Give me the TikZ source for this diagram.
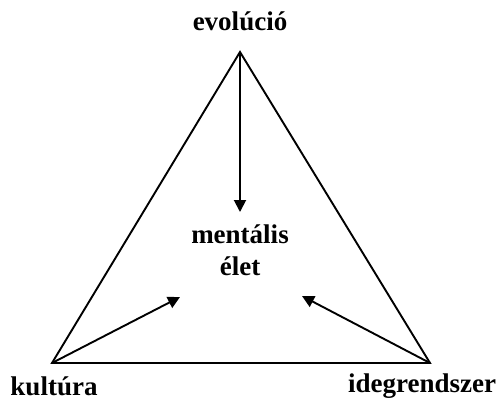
\documentclass[tikz,border=0pt]{standalone}
\usepackage{fontspec}
\setmainfont{Liberation Serif}
\usetikzlibrary{arrows.meta}
\begin{document}
\begin{tikzpicture}[x=1pt,y=-1pt,
  lbl/.style={font=\fontsize{27}{32}\selectfont\bfseries, inner sep=0pt, align=center},
  edge/.style={line width=1.9pt, line join=miter},
  arr/.style={line width=1.9pt, -{Triangle[length=12pt,width=12pt]}}]
\useasboundingbox (0,0) rectangle (503,400);
\coordinate (top) at (240,52);
\coordinate (bl) at (52,363);
\coordinate (br) at (430,363);
\draw[edge] (top) -- (bl) -- (br) -- cycle;
\node[lbl] (evo) at (240,21) {evolúció};
\node[lbl] (kul) at (54,386) {kultúra};
\node[lbl] (ideg) at (422,386) {idegrendszer};
\node[lbl] (ment) at (240,250) {mentális\\élet};
\coordinate (t1) at (240,212);
\coordinate (t2) at (180,297);
\coordinate (t3) at (302,296);
\draw[arr] (top) -- (t1);
\draw[arr] (bl) -- (t2);
\draw[arr] (br) -- (t3);
\end{tikzpicture}
\end{document}
